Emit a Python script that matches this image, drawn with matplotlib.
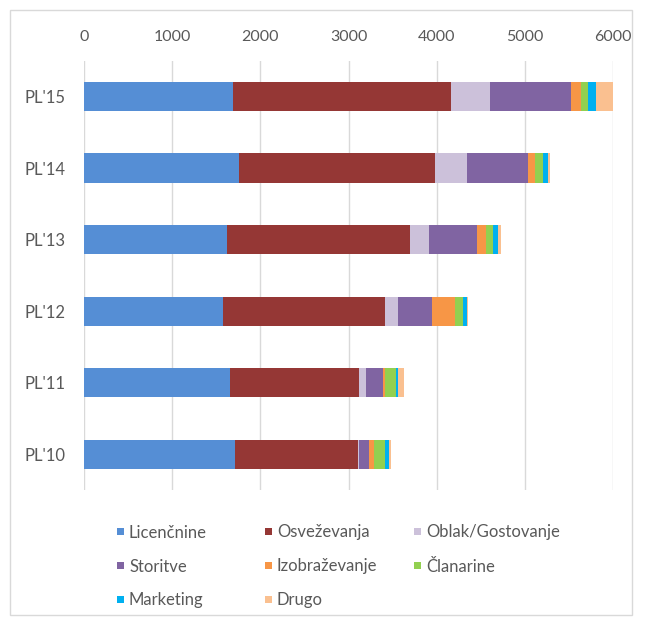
import matplotlib
matplotlib.use("Agg")
import matplotlib.pyplot as plt
from matplotlib.patches import Rectangle
import numpy as np

categories = ["PL'10", "PL'11", "PL'12", "PL'13", "PL'14", "PL'15"]
series_names = ["Licenčnine", "Osveževanja", "Oblak/Gostovanje", "Storitve",
                "Izobraževanje", "Članarine", "Marketing", "Drugo"]
licencnine    = [1709, 1659, 1573, 1625, 1761, 1693]
osvezevanja   = [1401, 1462, 1840, 2071, 2219, 2465]
oblak         = [11, 73, 150, 219, 359, 445]
storitve      = [114, 199, 386, 541, 692, 915]
izobrazevanje = [56, 16, 257, 102, 86, 117]
clanarine     = [122, 125, 94, 83, 84, 83]
marketing     = [48, 22, 39, 53, 63, 87]
drugo         = [20, 72, 11, 30, 19, 196]
colors = ["#558ED5", "#953735", "#CCC1DA", "#8064A2",
          "#F79646", "#92D050", "#00B0F0", "#FAC090"]
xticks = [0, 1000, 2000, 3000, 4000, 5000, 6000]

series = [licencnine, osvezevanja, oblak, storitve, izobrazevanje,
          clanarine, marketing, drugo]

plt.rcParams['font.family'] = ['Lato', 'DejaVu Sans']
txt = "#595959"
W, H = 646, 621

fig = plt.figure(figsize=(W / 100, H / 100), dpi=100)
ax = fig.add_axes([0.130, 0.211, 0.819, 0.691])

y = np.arange(len(categories))
left = np.zeros(len(categories))
for vals, c, name in zip(series, colors, series_names):
    ax.barh(y, vals, left=left, height=0.41, color=c, label=name, zorder=3)
    left += np.array(vals)

ax.set_xlim(0, 6000)
ax.set_ylim(-0.5, len(categories) - 0.5)
ax.set_xticks(xticks)
ax.set_xticklabels([str(t) for t in xticks])
ax.set_yticks(y)
ax.set_yticklabels(categories)
ax.xaxis.tick_top()
ax.tick_params(axis='x', length=0, pad=12, labelsize=11.5, labelcolor=txt)
ax.tick_params(axis='y', length=0, pad=13, labelsize=12, labelcolor=txt)
ax.grid(axis='x', color="#D9D9D9", linewidth=1.0, zorder=0)
for s in ax.spines.values():
    s.set_visible(False)

# Legend laid out in rows of three, like the reference
col_x = [117, 265, 414]
row_y = [531, 565, 599]
sq = 7
for i, (name, c) in enumerate(zip(series_names, colors)):
    cx = col_x[i % 3]
    cy = row_y[i // 3]
    fig.patches.append(Rectangle((cx / W, 1 - (cy + sq / 2) / H), sq / W, sq / H,
                                 transform=fig.transFigure, facecolor=c,
                                 edgecolor='none'))
    fig.text((cx + sq + 5) / W, 1 - cy / H, name, fontsize=12, color=txt,
             ha='left', va='center_baseline')

fig.patches.append(Rectangle((10 / W, 1 - 615 / H), 622 / W, 605 / H,
                             transform=fig.transFigure, fill=False,
                             edgecolor="#D9D9D9", linewidth=1.0))

fig.savefig("out.png", dpi=100)
